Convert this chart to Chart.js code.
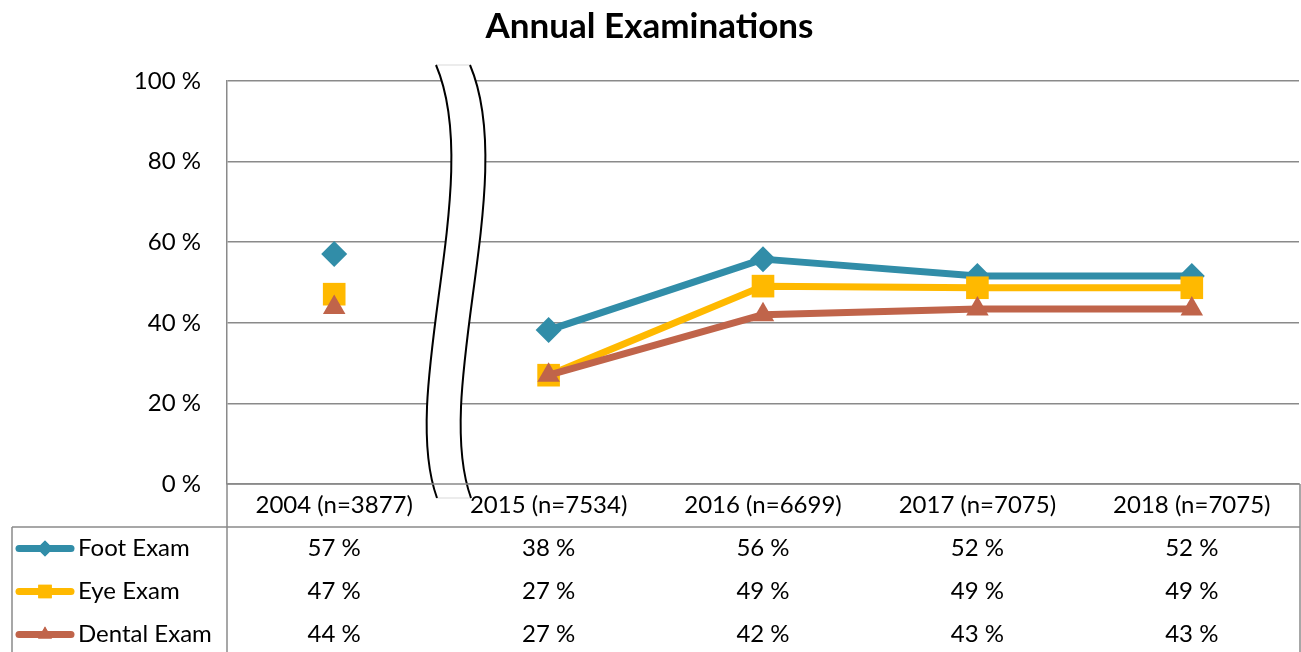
<!DOCTYPE html>
<html>
<head>
<meta charset="utf-8">
<script src="https://cdn.jsdelivr.net/npm/chart.js@4/dist/chart.umd.min.js"></script>
<style>
  html, body { margin: 0; padding: 0; background: #fff; }
  #wrap { width: 1301px; height: 652px; }
</style>
</head>
<body>
<div id="wrap"><canvas id="c" width="1301" height="652"></canvas></div>
<script>
// ---- data ----
const categories = ['2004 (n=3877)', '2015 (n=7534)', '2016 (n=6699)', '2017 (n=7075)', '2018 (n=7075)'];
const seriesNames = ['Foot Exam', 'Eye Exam', 'Dental Exam'];
const footExam   = [57.1, 38.2, 55.8, 51.6, 51.6];
const eyeExam    = [47.1, 27.0, 49.1, 48.7, 48.7];
const dentalExam = [43.8, 27.0, 42.0, 43.4, 43.4];
const yTicks = [0, 20, 40, 60, 80, 100];
const chartTitle = 'Annual Examinations';

// ---- styles ----
const FONT = 'Lato, "Open Sans", sans-serif';
const colors = ['#318DA8', '#FFB900', '#C0644A'];
const pointStyles = ['rectRot', 'rect', 'triangle'];
const pointRadii = [13, 16, 13];
const legendRadii = [8, 9.5, 8];
const GRID = '#8a8a8a';
const seriesData = [footExam, eyeExam, dentalExam];

const datasets = seriesData.map((d, i) => ({
  label: seriesNames[i],
  data: d,
  borderColor: colors[i],
  backgroundColor: colors[i],
  borderWidth: 7,
  borderJoinStyle: 'round',
  pointStyle: pointStyles[i],
  pointRadius: pointRadii[i],
  pointBorderWidth: 0,
  pointBackgroundColor: colors[i],
  order: 3 - i,
  tension: 0,
  clip: false,
  segment: {
    borderColor: ctx => ctx.p0DataIndex === 0 ? 'rgba(0,0,0,0)' : undefined
  }
}));

// axis break symbol between first and second category
const breakPlugin = {
  id: 'axisBreak',
  afterDatasetsDraw(chart) {
    const ctx = chart.ctx;
    const xs = chart.scales.x;
    const area = chart.chartArea;
    const b = (xs.getPixelForValue(0) + xs.getPixelForValue(1)) / 2;
    const top = area.top - 16, bot = area.bottom + 14;
    const h = bot - top;
    const curve = (dx) => [
      [b - 5.4 + dx, top],
      [b + 43.6 + dx, top + h * 0.266],
      [b - 43.4 + dx, top + h * 0.751],
      [b - 4.4 + dx, bot]
    ];
    const L = curve(0), R = curve(34);
    ctx.save();
    ctx.beginPath();
    ctx.moveTo(L[0][0], L[0][1]);
    ctx.bezierCurveTo(L[1][0], L[1][1], L[2][0], L[2][1], L[3][0], L[3][1]);
    ctx.lineTo(R[3][0], R[3][1]);
    ctx.bezierCurveTo(R[2][0], R[2][1], R[1][0], R[1][1], R[0][0], R[0][1]);
    ctx.closePath();
    ctx.fillStyle = '#fff';
    ctx.fill();
    ctx.strokeStyle = '#d9d9d9';
    ctx.lineWidth = 1;
    ctx.beginPath();
    ctx.moveTo(L[0][0], L[0][1]); ctx.lineTo(R[0][0], R[0][1]);
    ctx.moveTo(L[3][0], L[3][1]); ctx.lineTo(R[3][0], R[3][1]);
    ctx.stroke();
    ctx.strokeStyle = '#000';
    ctx.lineWidth = 2;
    [L, R].forEach(c => {
      ctx.beginPath();
      ctx.moveTo(c[0][0], c[0][1]);
      ctx.bezierCurveTo(c[1][0], c[1][1], c[2][0], c[2][1], c[3][0], c[3][1]);
      ctx.stroke();
    });
    ctx.restore();
  }
};

// data table under the plot
const tablePlugin = {
  id: 'dataTable',
  afterDraw(chart) {
    const ctx = chart.ctx;
    const xs = chart.scales.x;
    const area = chart.chartArea;
    const W = chart.width, H = chart.height;
    const left = 12, right = W - 1;
    const headerY = area.bottom + 21;
    const lineY = area.bottom + 43;
    const rowH = 43;
    ctx.save();
    ctx.strokeStyle = GRID;
    ctx.lineWidth = 1.5;
    ctx.beginPath();
    ctx.moveTo(left, lineY); ctx.lineTo(right, lineY);
    ctx.moveTo(left, lineY); ctx.lineTo(left, H);
    ctx.moveTo(area.left, area.bottom); ctx.lineTo(area.left, H);
    ctx.moveTo(right, area.bottom); ctx.lineTo(right, H);
    ctx.moveTo(area.left, area.bottom); ctx.lineTo(right, area.bottom);
    ctx.stroke();

    ctx.fillStyle = '#000';
    ctx.font = '24px ' + FONT;
    ctx.textAlign = 'center';
    ctx.textBaseline = 'middle';
    categories.forEach((c, i) => ctx.fillText(c, xs.getPixelForValue(i), headerY));

    seriesData.forEach((d, s) => {
      const y = lineY + rowH / 2 + s * rowH;
      // legend key
      ctx.strokeStyle = colors[s];
      ctx.lineWidth = 7;
      ctx.lineCap = 'round';
      ctx.beginPath();
      ctx.moveTo(19, y); ctx.lineTo(71, y);
      ctx.stroke();
      ctx.fillStyle = colors[s];
      Chart.helpers.drawPoint(ctx, { pointStyle: pointStyles[s], radius: legendRadii[s], borderWidth: 0, rotation: 0 }, 45, y);
      ctx.fill();
      ctx.fillStyle = '#000';
      ctx.textAlign = 'left';
      ctx.fillText(seriesNames[s], 78, y);
      ctx.textAlign = 'center';
      d.forEach((v, i) => ctx.fillText(Math.round(v) + ' %', xs.getPixelForValue(i), y));
    });
    ctx.restore();
  }
};

new Chart(document.getElementById('c'), {
  type: 'line',
  data: { labels: categories, datasets },
  options: {
    responsive: false,
    devicePixelRatio: 1,
    animation: false,
    layout: { autoPadding: false, padding: { left: 0, right: 2, top: 0, bottom: 0 } },
    plugins: {
      legend: { display: false },
      tooltip: { enabled: false },
      title: {
        display: true,
        text: chartTitle,
        color: '#000',
        font: { family: FONT, size: 35, weight: 'bold', lineHeight: 1.2 },
        padding: { top: 6, bottom: 33 }
      }
    },
    scales: {
      x: {
        type: 'category',
        offset: true,
        grid: { display: false, drawTicks: false },
        border: { display: false },
        ticks: { display: false },
        afterFit(scale) { scale.height = 168; scale.paddingLeft = 0; scale.paddingRight = 0; }
      },
      y: {
        min: 0,
        max: 100,
        afterBuildTicks(scale) { scale.ticks = yTicks.map(v => ({ value: v })); },
        ticks: {
          color: '#000',
          font: { family: FONT, size: 24 },
          padding: 26,
          callback: v => v + ' %'
        },
        grid: { color: GRID, lineWidth: 1.5, drawTicks: false },
        border: { display: true, color: GRID, width: 1.5 },
        afterFit(scale) { scale.width = 227; scale.paddingTop = 0; scale.paddingBottom = 0; }
      }
    }
  },
  plugins: [breakPlugin, tablePlugin]
});
</script>
</body>
</html>
